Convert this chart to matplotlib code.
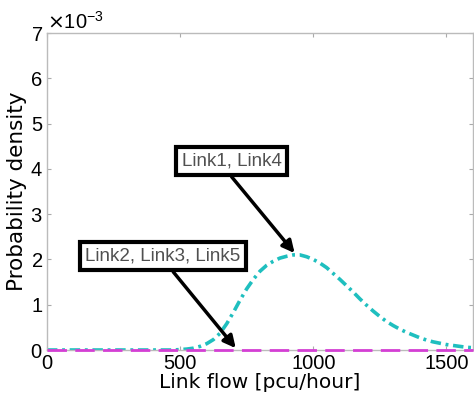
import numpy as np
import matplotlib
matplotlib.use("Agg")
import matplotlib.pyplot as plt
from matplotlib.ticker import ScalarFormatter

plt.rcParams["font.family"] = ["Liberation Sans", "DejaVu Sans"]

# link flow [pcu/hour] and density (x 1e-3)
flow = [0, 100, 200, 300, 400, 450, 475, 500, 525, 550, 575, 600, 625, 650, 675,
        700, 725, 750, 775, 800, 825, 850, 875, 900, 925, 950, 975, 1000,
        1025, 1050, 1075, 1100, 1125, 1150, 1175, 1200, 1225, 1250, 1275,
        1300, 1325, 1350, 1375, 1400, 1425, 1450, 1475, 1500, 1525, 1550,
        1575, 1600]
dens_14 = [0, 0, 0, 0, 0, 0, 0, 0.01, 0.02, 0.04, 0.08, 0.14, 0.23, 0.37, 0.58,
           0.83, 1.10, 1.35, 1.56, 1.74, 1.87, 1.96, 2.03, 2.07, 2.10, 2.10,
           2.06, 2.00, 1.92, 1.82, 1.69, 1.56, 1.42, 1.28, 1.13, 0.99, 0.86,
           0.74, 0.63, 0.54, 0.46, 0.39, 0.33, 0.27, 0.22, 0.18, 0.15, 0.12,
           0.10, 0.08, 0.06, 0.05]
flow_235 = [0, 1600]
dens_235 = [0, 0]

label_14 = "Link1, Link4"
label_235 = "Link2, Link3, Link5"

fig = plt.figure(figsize=(4.74, 3.98), dpi=100)
ax = fig.add_axes([0.099, 0.1206, 0.899, 0.7964])

ax.plot(flow, np.array(dens_14) * 1e-3, color="#1fbfbf", lw=2.6,
        dashes=(2.9, 1.3, 0.8, 1.3), zorder=2)
ax.plot(flow_235, np.array(dens_235) * 1e-3, color="#d43fd4", lw=2,
        dashes=(7, 3), zorder=4, clip_on=False)

ax.set_xlim(0, 1600)
ax.set_ylim(0, 7e-3)
ax.set_xticks([0, 500, 1000, 1500])
ax.set_yticks(np.arange(0, 8) * 1e-3)

fmt = ScalarFormatter(useMathText=True)
fmt.set_powerlimits((-2, 2))
ax.yaxis.set_major_formatter(fmt)
ax.yaxis.get_offset_text().set_fontsize(14.5)

ax.tick_params(direction="in", length=3, color="#aaaaaa", labelsize=14.5,
               top=True, right=True, pad=3)
for s in ax.spines.values():
    s.set_color("#bbbbbb")
    s.set_linewidth(1)

ax.set_xlabel("Link flow [pcu/hour]", fontsize=14.5, labelpad=0,
              family="DejaVu Sans")
ax.set_ylabel("Probability density", fontsize=15.5, labelpad=2,
              family="DejaVu Sans")

box = dict(boxstyle="square,pad=0.3", fc="white", ec="black", lw=3)
arrow = dict(arrowstyle="-|>", lw=2.5, color="black", mutation_scale=18,
             shrinkA=0, shrinkB=0)

ax.annotate(label_14, xy=(930, 2.14e-3), xytext=(694, 4.17e-3),
            ha="center", va="center", fontsize=13.5, color="#505050",
            bbox=box, arrowprops=dict(arrow, relpos=(0.44, 0)))
ax.annotate(label_235, xy=(709, 0.04e-3), xytext=(435, 2.07e-3),
            ha="center", va="center", fontsize=13.5, color="#505050",
            bbox=box, arrowprops=dict(arrow, relpos=(0.53, 0)))

fig.savefig("out.png", dpi=100)
